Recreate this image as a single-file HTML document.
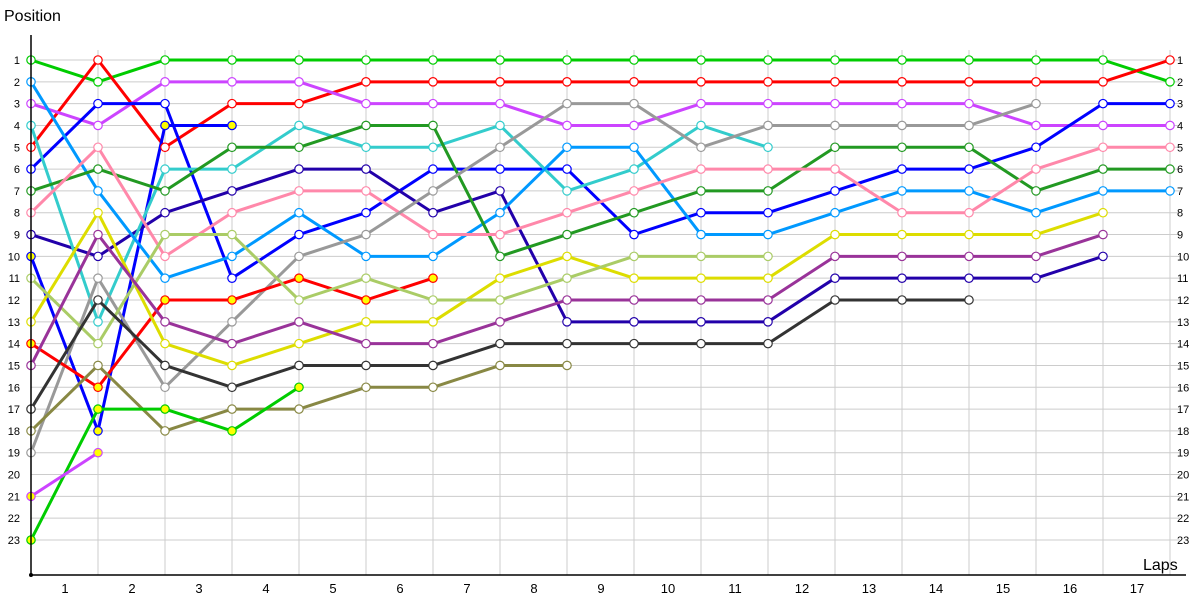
<!DOCTYPE html>
<html><head><meta charset="utf-8"><style>
html,body{margin:0;padding:0;background:#fff;}
svg{display:block;font-family:"Liberation Sans","DejaVu Sans",sans-serif;}
</style></head><body>
<svg id="c" width="1200" height="600" xmlns="http://www.w3.org/2000/svg">
<rect width="1200" height="600" fill="#fff"/>
<g id="grid" stroke="#cccccc" stroke-width="1"></g>
<g id="lines"></g>
<g id="marks"></g>
<g id="labels" font-size="11" fill="#000"></g>
<line x1="31" y1="35" x2="31" y2="575" stroke="#000" stroke-width="1.5"/>
<line x1="31" y1="575" x2="1186" y2="575" stroke="#000" stroke-width="1.5"/>
<circle cx="31" cy="575" r="2" fill="#000"/>
<text x="4" y="21" font-size="16" fill="#000">Position</text>
<text x="1143" y="570" font-size="16" fill="#000">Laps</text>
</svg>
<script>
var X=function(i){return 31+67*i;};
var Y=function(p){return 60+(p-1)*480/22;};
var ns="http://www.w3.org/2000/svg";
function el(t,a,par){var e=document.createElementNS(ns,t);for(var k in a)e.setAttribute(k,a[k]);document.getElementById(par).appendChild(e);return e;}
for(var p=1;p<=23;p++){el('line',{x1:31,x2:1180,y1:Y(p),y2:Y(p)},'grid');
 var t=el('text',{x:20,y:Y(p)+4,'text-anchor':'end'},'labels');t.textContent=p;
 var t2=el('text',{x:1177,y:Y(p)+4},'labels');t2.textContent=p;}
for(var i=1;i<=17;i++){el('line',{x1:X(i),x2:X(i),y1:50,y2:575},'grid');
 var t=el('text',{x:X(i)-33,y:593,'text-anchor':'middle','font-size':'13'},'labels');t.textContent=i;}
var S=[
['#00cc00',[1,2,1,1,1,1,1,1,1,1,1,1,1,1,1,1,1,2],0],
['#ff0000',[5,1,5,3,3,2,2,2,2,2,2,2,2,2,2,2,2,1],0],
['#cc44ff',[3,4,2,2,2,3,3,3,4,4,3,3,3,3,3,4,4,4],0],
['#0000ff',[6,3,3,11,9,8,6,6,6,9,8,8,7,6,6,5,3,3],0],
['#0000ff',[10,18,4,4],1],
['#2200aa',[9,10,8,7,6,6,8,7,13,13,13,13,11,11,11,11,10],0],
['#33cccc',[4,13,6,6,4,5,5,4,7,6,4,5],0],
['#0099ff',[2,7,11,10,8,10,10,8,5,5,9,9,8,7,7,8,7,7],0],
['#229922',[7,6,7,5,5,4,4,10,9,8,7,7,5,5,5,7,6,6],0],
['#ff88aa',[8,5,10,8,7,7,9,9,8,7,6,6,6,8,8,6,5,5],0],
['#999999',[19,11,16,13,10,9,7,5,3,3,5,4,4,4,4,3],0],
['#ff0000',[14,16,12,12,11,12,11],1],
['#dddd00',[13,8,14,15,14,13,13,11,10,11,11,11,9,9,9,9,8],0],
['#aacc66',[11,14,9,9,12,11,12,12,11,10,10,10],0],
['#993399',[15,9,13,14,13,14,14,13,12,12,12,12,10,10,10,10,9],0],
['#333333',[17,12,15,16,15,15,15,14,14,14,14,14,12,12,12],0],
['#888844',[18,15,18,17,17,16,16,15,15],0],
['#00cc00',[23,17,17,18,16],1],
['#cc44ff',[21,19],1]
];
S.forEach(function(s){var pts=s[1].map(function(p,i){return X(i)+','+Y(p);}).join(' ');
 el('polyline',{points:pts,fill:'none',stroke:s[0],'stroke-width':3,'stroke-linejoin':'round'},'lines');
 s[1].forEach(function(p,i){el('circle',{cx:X(i),cy:Y(p),r:4.2,fill:s[2]?'#ffff00':'#fff',stroke:s[0],'stroke-width':1.2},'marks');});
});
</script>
</body></html>
